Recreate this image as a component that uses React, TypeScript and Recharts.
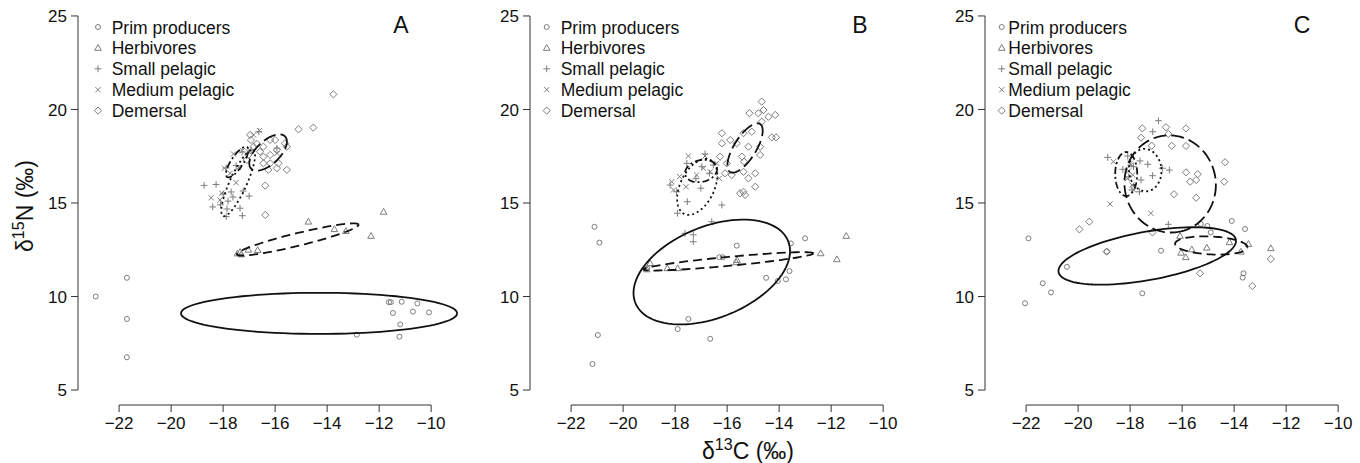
import React from "react";
import { ScatterChart, Scatter, XAxis, YAxis, ReferenceLine } from "recharts";

type Pt = [number, number];

const xTicks = [-22, -20, -18, -16, -14, -12, -10];
const yTicks = [5, 10, 15, 20, 25];
const groupNames = ["Prim producers", "Herbivores", "Small pelagic", "Medium pelagic", "Demersal"];
const panelLetters = ["A", "B", "C"];

// panel A
const primA: Pt[] = [[-22.9, 10.0], [-21.7, 11.0], [-21.7, 8.8], [-21.7, 6.75], [-11.62, 9.7], [-11.55, 9.7], [-11.13, 9.72], [-10.53, 9.63], [-11.47, 9.12], [-10.7, 9.19], [-10.08, 9.15], [-11.19, 8.51], [-11.22, 7.85], [-12.86, 7.96]];
const herbA: Pt[] = [[-17.45, 12.3], [-17.35, 12.38], [-17.3, 12.25], [-17.03, 12.5], [-16.67, 12.48], [-14.72, 14.0], [-13.72, 13.6], [-13.28, 13.5], [-12.31, 13.24], [-11.83, 14.53]];
const smallA: Pt[] = [[-18.73, 15.94], [-18.27, 15.99], [-18.0, 15.48], [-17.69, 15.59], [-17.23, 15.64], [-17.0, 15.37], [-18.4, 14.79], [-18.1, 14.9], [-17.85, 14.68], [-17.35, 14.72], [-17.88, 14.27], [-17.26, 14.32], [-17.62, 15.32], [-17.81, 15.1], [-17.88, 16.87], [-17.27, 17.73], [-16.92, 17.83], [-15.93, 17.93], [-16.63, 18.81], [-17.5, 17.0]];
const medA: Pt[] = [[-18.46, 15.28], [-18.05, 15.52], [-17.5, 16.09], [-17.73, 16.59], [-16.83, 18.64], [-16.6, 18.87], [-17.6, 17.62], [-17.26, 17.8], [-17.03, 17.74], [-15.93, 17.66], [-17.95, 16.86], [-18.12, 15.16], [-17.4, 16.9]];
const demA: Pt[] = [[-13.76, 20.81], [-15.1, 18.94], [-14.53, 19.03], [-15.55, 16.77], [-16.38, 15.93], [-16.38, 14.36], [-16.96, 18.64], [-16.93, 18.37], [-16.7, 18.16], [-16.45, 18.01], [-16.19, 18.37], [-16.0, 18.37], [-15.62, 18.19], [-15.55, 18.01], [-15.93, 17.83], [-16.19, 17.57], [-16.45, 17.48], [-16.45, 17.12], [-16.19, 17.12], [-15.87, 17.12], [-16.26, 16.77], [-15.93, 16.86], [-17.03, 17.57], [-17.09, 17.3], [-16.58, 17.74], [-16.83, 18.01]];

// panel B
const primB: Pt[] = [[-20.91, 12.88], [-20.97, 7.94], [-21.18, 6.39], [-21.1, 13.73], [-17.49, 8.8], [-17.9, 8.26], [-16.65, 7.74], [-15.63, 12.72], [-16.3, 12.1], [-16.17, 12.1], [-13.55, 12.84], [-13.0, 13.11], [-13.6, 11.36], [-14.5, 11.0], [-14.05, 10.83], [-13.74, 10.92], [-19.07, 11.5]];
const herbB: Pt[] = [[-18.96, 11.78], [-19.09, 11.45], [-18.3, 11.51], [-17.9, 11.51], [-15.65, 11.83], [-15.62, 11.95], [-12.4, 12.31], [-11.78, 11.99], [-11.42, 13.24]];
const smallB: Pt[] = [[-16.85, 17.62], [-17.01, 15.79], [-17.53, 15.07], [-17.91, 14.45], [-16.2, 14.89], [-16.59, 14.0], [-18.19, 15.96], [-17.94, 15.6], [-16.97, 16.94], [-16.68, 16.59], [-16.53, 17.03], [-17.55, 17.12], [-17.62, 13.38], [-17.3, 13.3], [-17.3, 12.93], [-17.2, 16.3]];
const medB: Pt[] = [[-17.49, 17.51], [-16.85, 17.51], [-17.17, 16.5], [-17.58, 15.87], [-17.83, 16.41], [-18.13, 16.14], [-18.06, 15.7], [-16.91, 16.86], [-16.65, 16.67], [-16.4, 17.12], [-16.3, 16.32]];
const demB: Pt[] = [[-14.67, 20.42], [-15.14, 19.8], [-14.8, 19.8], [-14.6, 19.97], [-14.41, 19.61], [-14.15, 19.71], [-14.67, 19.35], [-14.28, 18.51], [-14.12, 18.51], [-16.2, 18.73], [-16.2, 18.19], [-15.88, 18.37], [-15.63, 18.19], [-15.37, 18.73], [-15.18, 18.01], [-15.43, 17.48], [-15.35, 17.21], [-14.73, 17.57], [-14.73, 18.01], [-16.27, 17.48], [-16.01, 17.12], [-15.82, 16.5], [-16.08, 16.59], [-15.37, 16.67], [-15.18, 16.32], [-14.92, 16.59], [-14.92, 15.87], [-15.37, 15.6], [-15.5, 15.52], [-15.31, 15.43], [-15.05, 18.81]];

// panel C
const primC: Pt[] = [[-21.91, 13.11], [-22.04, 9.64], [-21.36, 10.71], [-21.04, 10.22], [-20.43, 11.59], [-18.9, 12.4], [-17.53, 10.17], [-16.81, 12.45], [-15.28, 13.88], [-15.03, 13.77], [-14.9, 13.43], [-14.09, 14.04], [-13.58, 13.61], [-13.64, 11.24], [-13.67, 11.01]];
const herbC: Pt[] = [[-16.08, 13.24], [-15.63, 12.52], [-15.05, 12.61], [-16.04, 12.34], [-15.86, 12.1], [-14.18, 12.9], [-13.74, 12.4], [-13.45, 12.81], [-12.59, 12.58]];
const smallC: Pt[] = [[-16.91, 19.4], [-17.13, 18.81], [-18.86, 17.44], [-18.28, 16.8], [-17.62, 17.25], [-17.32, 17.07], [-17.14, 16.46], [-16.76, 16.86], [-16.49, 16.76], [-17.58, 16.23], [-17.64, 15.6], [-17.87, 16.94], [-18.09, 17.51], [-16.53, 13.86], [-17.93, 15.7], [-18.05, 16.4]];
const medC: Pt[] = [[-18.77, 14.95], [-17.2, 14.45], [-18.64, 17.21], [-18.0, 17.12], [-18.06, 16.71], [-17.97, 17.03], [-17.93, 15.96], [-17.87, 15.7], [-18.1, 16.3], [-17.9, 16.5]];
const demC: Pt[] = [[-17.53, 18.99], [-17.58, 18.49], [-17.17, 18.06], [-16.62, 19.05], [-16.53, 18.69], [-16.4, 18.06], [-15.85, 18.99], [-15.85, 18.05], [-15.85, 16.64], [-15.69, 16.14], [-15.4, 16.54], [-15.46, 16.23], [-16.31, 15.47], [-15.46, 15.28], [-14.35, 17.18], [-14.38, 16.14], [-19.95, 13.59], [-19.57, 14.0], [-18.9, 12.4], [-17.14, 13.43], [-15.31, 11.24], [-13.3, 10.56], [-12.59, 12.01]];

// ellipses: centre x, centre y, semi-diameter u (x, y), conjugate v (x, y)
const ellA = [
  [-14.31, 9.1, 5.31, 0, 0, 1.1],
  [-15.13, 13.05, 2.34, 0.786, 0, 0.348],
  [-17.42, 16.07, 0.577, 1.765, 0.296, -0.187],
  [-17.46, 17.19, 0.385, 0.802, 0.192, -0.178],
  [-16.27, 17.7, 0.654, 0.856, 0.308, -0.455],
];
const ellB = [
  [-16.59, 11.31, 3.01, 1.123, 0, 2.567],
  [-15.95, 11.88, 3.27, 0.428, 0, 0.24],
  [-17.15, 15.86, 0.5, 1.444, 0.588, -0.396],
  [-17.0, 16.71, 0.615, 0.107, 0, 0.588],
  [-15.31, 17.94, 0.577, 1.283, 0.358, -0.31],
];
const ellC = [
  [-17.34, 12.17, 3.415, 0.802, 0, 1.31],
  [-14.88, 12.73, 1.39, -0.09, 0, 0.48],
  [-17.42, 16.76, 0.615, 0.16, 0.115, -1.123],
  [-18.15, 16.55, 0, 1.176, 0.423, 0],
  [-16.46, 16.02, 0.308, -2.567, 1.731, 0.401],
];

const X_DOMAIN: [number, number] = [-23.58, -8.89];
const Y_DOMAIN: [number, number] = [4.2, 25.8];
const GRAY = "#7d7d7d";
const FONT = "'Liberation Sans', Arial, Helvetica, sans-serif";
const dashes = ["", "9 5", "2 3", "2 3 7 3", "13 5"];

const toRows = (pts: Pt[]) => pts.map(([x, y]) => ({ x, y }));

function ellipsePts(e: number[]) {
  const [cx, cy, ux, uy, vx, vy] = e;
  const out = [];
  for (let i = 0; i <= 96; i++) {
    const t = (i / 96) * Math.PI * 2;
    out.push({ x: cx + ux * Math.cos(t) + vx * Math.sin(t), y: cy + uy * Math.cos(t) + vy * Math.sin(t) });
  }
  return out;
}

function symbol(kind: number, cx: number, cy: number) {
  const s = { fill: "none", stroke: GRAY, strokeWidth: 1 };
  if (kind === 0) return <circle cx={cx} cy={cy} r={2.5} {...s} />;
  if (kind === 1) return <polygon points={`${cx},${cy - 3.4} ${cx - 3.3},${cy + 2.4} ${cx + 3.3},${cy + 2.4}`} {...s} />;
  if (kind === 2)
    return <path d={`M${cx - 3.4},${cy}H${cx + 3.4}M${cx},${cy - 3.4}V${cy + 3.4}`} {...s} />;
  if (kind === 3)
    return <path d={`M${cx - 2.6},${cy - 2.6}L${cx + 2.6},${cy + 2.6}M${cx - 2.6},${cy + 2.6}L${cx + 2.6},${cy - 2.6}`} {...s} />;
  return <polygon points={`${cx},${cy - 3.6} ${cx + 3.6},${cy} ${cx},${cy + 3.6} ${cx - 3.6},${cy}`} {...s} />;
}

const fmt = (v: number) => (v < 0 ? "\u2212" + Math.abs(v) : String(v));

function Panel({ groups, ells, left }: { groups: Pt[][]; ells: number[][]; left: number }) {
  return (
    <div style={{ position: "absolute", left, top: 0 }}>
      <ScatterChart width={460} height={463} margin={{ top: 1, right: 0, bottom: 0, left: 0 }}>
        <XAxis
          type="number"
          dataKey="x"
          domain={X_DOMAIN}
          ticks={xTicks}
          allowDataOverflow
          height={58}
          axisLine={false}
          tickLine={{ stroke: "#333" }}
          tickSize={7}
          tickMargin={5}
          tickFormatter={fmt}
          tick={{ fontSize: 17, fill: "#111", fontFamily: FONT }}
        />
        <YAxis
          type="number"
          dataKey="y"
          domain={Y_DOMAIN}
          ticks={yTicks}
          allowDataOverflow
          width={78}
          axisLine={false}
          tickLine={{ stroke: "#333" }}
          tickSize={7}
          tickMargin={4}
          tick={{ fontSize: 17, fill: "#111", fontFamily: FONT }}
        />
        <ReferenceLine segment={[{ x: -22, y: 4.2 }, { x: -10, y: 4.2 }]} stroke="#333" ifOverflow="visible" />
        <ReferenceLine segment={[{ x: -23.58, y: 5 }, { x: -23.58, y: 25 }]} stroke="#333" ifOverflow="visible" />
        {groups.map((g, k) => (
          <Scatter
            key={"g" + k}
            data={toRows(g)}
            isAnimationActive={false}
            shape={(p: any) => symbol(k, p.cx, p.cy)}
          />
        ))}
        {ells.map((e, k) => (
          <Scatter
            key={"e" + k}
            data={ellipsePts(e)}
            isAnimationActive={false}
            line={{ stroke: "#111", strokeWidth: 1.8, strokeDasharray: dashes[k], fill: "none" }}
            lineType="joint"
            shape={() => <g />}
          />
        ))}
      </ScatterChart>
    </div>
  );
}

const legendPos = [
  { sym: 98, text: 111.7 },
  { sym: 546.7, text: 560.7 },
  { sym: 1001.7, text: 1008.3 },
];
const letterX = [401, 860, 1302];

export default function App() {
  return (
    <div style={{ position: "absolute", left: 0, top: 0, width: 1360, height: 463, overflow: "hidden", background: "#fff" }}>
      <Panel groups={[primA, herbA, smallA, medA, demA]} ells={ellA} left={0} />
      <Panel groups={[primB, herbB, smallB, medB, demB]} ells={ellB} left={452} />
      <Panel groups={[primC, herbC, smallC, medC, demC]} ells={ellC} left={907} />
      <svg width={1360} height={463} style={{ position: "absolute", left: 0, top: 0, pointerEvents: "none" }}>
        {legendPos.map((lp, p) => (
          <g key={p}>
            {groupNames.map((n, i) => (
              <g key={n}>
                {symbol(i, lp.sym, 27 + i * 20.9)}
                <text x={lp.text} y={33.5 + i * 20.9} fontSize={17.5} fontFamily={FONT} fill="#111">
                  {n}
                </text>
              </g>
            ))}
            <text x={letterX[p]} y={33.3} fontSize={23} fontFamily={FONT} textAnchor="middle" fill="#111">
              {panelLetters[p]}
            </text>
          </g>
        ))}
        <text x={748} y={459} fontSize={23} fontFamily={FONT} textAnchor="middle" fill="#111">
          <tspan>δ</tspan>
          <tspan fontSize={16} dy={-9}>13</tspan>
          <tspan dy={9}>C (‰)</tspan>
        </text>
        <text x={0} y={0} transform="translate(33,206) rotate(-90)" fontSize={23} fontFamily={FONT} textAnchor="middle" fill="#111">
          <tspan>δ</tspan>
          <tspan fontSize={16} dy={-9}>15</tspan>
          <tspan dy={9}>N (‰)</tspan>
        </text>
      </svg>
    </div>
  );
}
